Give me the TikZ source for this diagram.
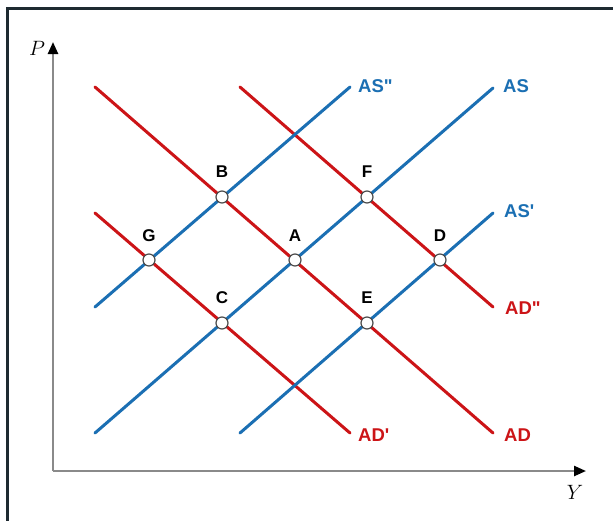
\documentclass[tikz,border=0pt]{standalone}
\usepackage{fontspec}
\setmainfont{Liberation Serif}
\newfontfamily\lblfont{Liberation Sans}
\usetikzlibrary{arrows.meta}
\definecolor{asblue}{HTML}{1B6FB3}
\definecolor{adred}{HTML}{CC1417}
\definecolor{framec}{HTML}{1E2A31}
\definecolor{axisc}{HTML}{8A8A8A}
\tikzset{
  asline/.style={draw=asblue,line width=3pt},
  adline/.style={draw=adred,line width=3pt},
  axisline/.style={draw=axisc,line width=2.4pt,-{Triangle[length=12pt,width=10pt,color=black]}},
  eqpt/.style={circle,draw=black!70,fill=white,line width=1.2pt,minimum size=12pt,inner sep=0pt},
  ptlbl/.style={font=\lblfont\bfseries\fontsize{17}{17}\selectfont,text=black,inner sep=0pt},
  bluelbl/.style={font=\lblfont\bfseries\fontsize{18.5}{18.5}\selectfont,text=asblue,anchor=west,inner sep=0pt},
  redlbl/.style={font=\lblfont\bfseries\fontsize{18.5}{18.5}\selectfont,text=adred,anchor=west,inner sep=0pt},
  axlbl/.style={font=\itshape\fontsize{20}{20}\selectfont,inner sep=0pt}
}
\begin{document}
\begin{tikzpicture}[x=1pt,y=-1pt]
\useasboundingbox (0,0) rectangle (613,520);
\fill[white] (0,0) rectangle (613,520);
% frame
\coordinate (fr1) at (7.5,530);
\coordinate (fr2) at (7.5,8);
\coordinate (fr3) at (620,8);
\draw[framec,line width=3pt] (fr1) -- (fr2) -- (fr3);
% axes
\coordinate (O) at (53,471);
\coordinate (Ptop) at (53,42);
\coordinate (Yend) at (586,471);
\draw[axisline] (O) -- (Ptop);
\draw[axisline] (O) -- (Yend);
\node[axlbl] (Plbl) at (37,48) {$P$};
\node[axlbl] (Ylbl) at (575,492) {$Y$};
% curve end points
\coordinate (as1) at (95,433);   \coordinate (as2) at (493,88);
\coordinate (asA1) at (95,307);  \coordinate (asA2) at (350,87);
\coordinate (asB1) at (240,433); \coordinate (asB2) at (493,213);
\coordinate (ad1) at (95,87);    \coordinate (ad2) at (493,433);
\coordinate (adA1) at (95,213);  \coordinate (adA2) at (350,433);
\coordinate (adB1) at (240,87);  \coordinate (adB2) at (493,307);
\draw[adline,line cap=round] (ad1) -- (ad2);
\draw[adline,line cap=round] (adA1) -- (adA2);
\draw[adline,line cap=round] (adB1) -- (adB2);
\draw[asline,line cap=round] (as1) -- (as2);
\draw[asline,line cap=round] (asA1) -- (asA2);
\draw[asline,line cap=round] (asB1) -- (asB2);
% curve labels
\node[bluelbl] (lAS2) at (358,86) {AS"};
\node[bluelbl] (lAS) at (503,86) {AS};
\node[bluelbl] (lAS1) at (504,211) {AS'};
\node[redlbl] (lAD2) at (505,308) {AD"};
\node[redlbl] (lAD) at (504,435) {AD};
\node[redlbl] (lAD1) at (358,435) {AD'};
% equilibrium points
\node[eqpt] (A) at (295,260) {};
\node[eqpt] (B) at (222,197) {};
\node[eqpt] (C) at (222,323) {};
\node[eqpt] (D) at (440,260) {};
\node[eqpt] (E) at (367,323) {};
\node[eqpt] (F) at (367,197) {};
\node[eqpt] (G) at (149,260) {};
\node[ptlbl] (lA) at (295,236) {A};
\node[ptlbl] (lB) at (222,172) {B};
\node[ptlbl] (lC) at (222,298) {C};
\node[ptlbl] (lD) at (440,236) {D};
\node[ptlbl] (lE) at (367,298) {E};
\node[ptlbl] (lF) at (367,172) {F};
\node[ptlbl] (lG) at (149,236) {G};
\end{tikzpicture}
\end{document}
